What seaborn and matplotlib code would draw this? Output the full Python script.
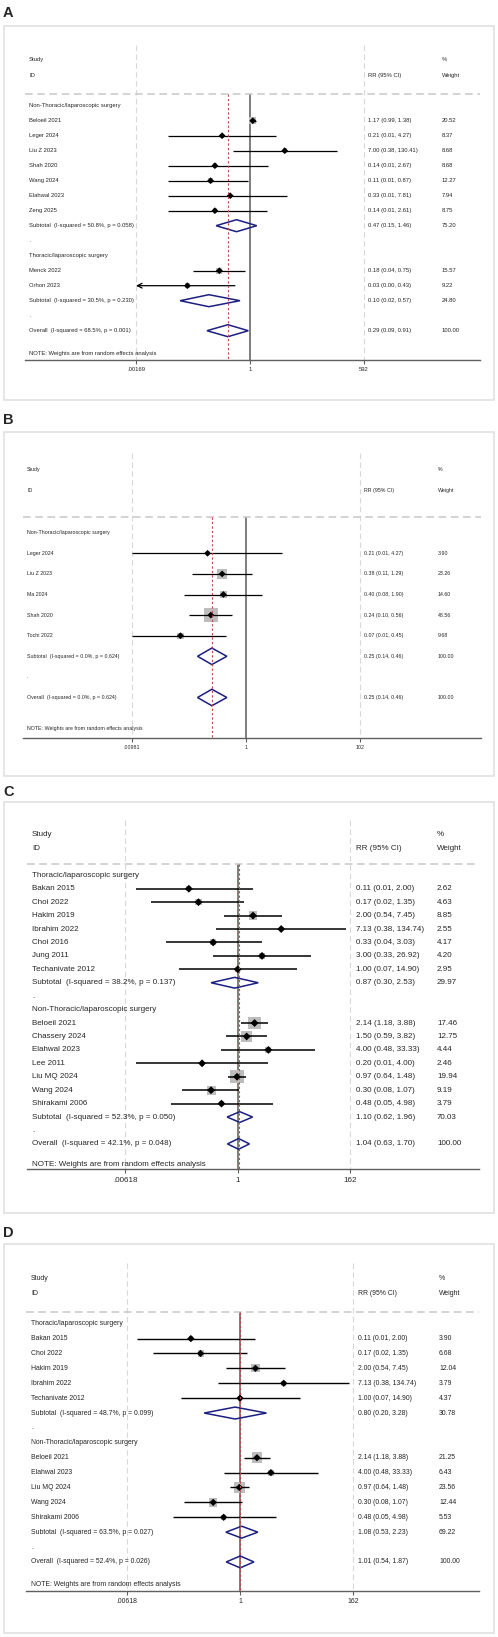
import numpy as np
import pandas as pd
import matplotlib.pyplot as plt
import seaborn as sns
from matplotlib.patches import Rectangle
from matplotlib.transforms import blended_transform_factory

# ---------------- DATA ---------------- #

# Panel A
a_groups = ["Non-Thoracic/laparoscopic surgery", "Thoracic/laparoscopic surgery"]
a_study = ["Beloeil 2021", "Leger 2024", "Liu Z 2023", "Shah 2020", "Wang 2024",
           "Elahwal 2023", "Zeng 2025", "Menck 2022", "Orhon 2023"]
a_grp = [0, 0, 0, 0, 0, 0, 0, 1, 1]
a_rr = [1.17, 0.21, 7.00, 0.14, 0.11, 0.33, 0.14, 0.18, 0.03]
a_lo = [0.99, 0.01, 0.38, 0.01, 0.01, 0.01, 0.01, 0.04, 0.00]
a_hi = [1.38, 4.27, 130.41, 2.67, 0.87, 7.81, 2.61, 0.75, 0.43]
a_w = [20.52, 8.37, 8.68, 8.68, 12.27, 7.94, 8.75, 15.57, 9.22]
a_sub_rr = [0.47, 0.10]
a_sub_lo = [0.15, 0.02]
a_sub_hi = [1.46, 0.57]
a_sub_w = [75.20, 24.80]
a_sub_i2 = ["50.8", "30.5"]
a_sub_p = ["0.058", "0.230"]
a_all = [0.29, 0.09, 0.91]
a_all_het = ["68.5", "0.001"]
a_ticks = [0.00169, 1, 592]
a_tick_labels = [".00169", "1", "592"]

# Panel B
b_groups = ["Non-Thoracic/laparoscopic surgery"]
b_study = ["Leger 2024", "Liu Z 2023", "Ma 2024", "Shah 2020", "Tochi 2022"]
b_grp = [0, 0, 0, 0, 0]
b_rr = [0.21, 0.38, 0.40, 0.24, 0.07]
b_lo = [0.01, 0.11, 0.08, 0.10, 0.01]
b_hi = [4.27, 1.29, 1.90, 0.56, 0.45]
b_w = [3.90, 23.26, 14.60, 48.56, 9.68]
b_sub_rr = [0.25]
b_sub_lo = [0.14]
b_sub_hi = [0.46]
b_sub_w = [100.00]
b_sub_i2 = ["0.0"]
b_sub_p = ["0.624"]
b_all = [0.25, 0.14, 0.46]
b_all_het = ["0.0", "0.624"]
b_ticks = [0.00981, 1, 102]
b_tick_labels = [".00981", "1", "102"]

# Panel C
c_groups = ["Thoracic/laparoscopic surgery", "Non-Thoracic/laparoscopic surgery"]
c_study = ["Bakan 2015", "Choi 2022", "Hakim 2019", "Ibrahim 2022", "Choi 2016",
           "Jung 2011", "Techanivate 2012",
           "Beloeil 2021", "Chassery 2024", "Elahwal 2023", "Lee 2011",
           "Liu MQ 2024", "Wang 2024", "Shirakami 2006"]
c_grp = [0, 0, 0, 0, 0, 0, 0, 1, 1, 1, 1, 1, 1, 1]
c_rr = [0.11, 0.17, 2.00, 7.13, 0.33, 3.00, 1.00, 2.14, 1.50, 4.00, 0.20, 0.97, 0.30, 0.48]
c_lo = [0.01, 0.02, 0.54, 0.38, 0.04, 0.33, 0.07, 1.18, 0.59, 0.48, 0.01, 0.64, 0.08, 0.05]
c_hi = [2.00, 1.35, 7.45, 134.74, 3.03, 26.92, 14.90, 3.88, 3.82, 33.33, 4.00, 1.48, 1.07, 4.98]
c_w = [2.62, 4.63, 8.85, 2.55, 4.17, 4.20, 2.95, 17.46, 12.75, 4.44, 2.46, 19.94, 9.19, 3.79]
c_sub_rr = [0.87, 1.10]
c_sub_lo = [0.30, 0.62]
c_sub_hi = [2.53, 1.96]
c_sub_w = [29.97, 70.03]
c_sub_i2 = ["38.2", "52.3"]
c_sub_p = ["0.137", "0.050"]
c_all = [1.04, 0.63, 1.70]
c_all_het = ["42.1", "0.048"]
c_ticks = [0.00618, 1, 162]
c_tick_labels = [".00618", "1", "162"]

# Panel D
d_groups = ["Thoracic/laparoscopic surgery", "Non-Thoracic/laparoscopic surgery"]
d_study = ["Bakan 2015", "Choi 2022", "Hakim 2019", "Ibrahim 2022", "Techanivate 2012",
           "Beloeil 2021", "Elahwal 2023", "Liu MQ 2024", "Wang 2024", "Shirakami 2006"]
d_grp = [0, 0, 0, 0, 0, 1, 1, 1, 1, 1]
d_rr = [0.11, 0.17, 2.00, 7.13, 1.00, 2.14, 4.00, 0.97, 0.30, 0.48]
d_lo = [0.01, 0.02, 0.54, 0.38, 0.07, 1.18, 0.48, 0.64, 0.08, 0.05]
d_hi = [2.00, 1.35, 7.45, 134.74, 14.90, 3.88, 33.33, 1.48, 1.07, 4.98]
d_w = [3.90, 6.68, 12.04, 3.79, 4.37, 21.25, 6.43, 23.56, 12.44, 5.53]
d_sub_rr = [0.80, 1.08]
d_sub_lo = [0.20, 0.53]
d_sub_hi = [3.28, 2.23]
d_sub_w = [30.78, 69.22]
d_sub_i2 = ["48.7", "63.5"]
d_sub_p = ["0.099", "0.027"]
d_all = [1.01, 0.54, 1.87]
d_all_het = ["52.4", "0.026"]
d_ticks = [0.00618, 1, 162]
d_tick_labels = [".00618", "1", "162"]

# ---------------- LAYOUT (pixels) ---------------- #
W, H = 498, 1637
layout = {
    "A": dict(frame=(26, 400), lab=17.3, ax=(25, 480, 45, 360), row0=105.7, sp=15.0,
              x1=250, xmax=364, cols=(29, 368, 442), fs=4.2, k=1.5, dot=12, lw=0.9, pad=1.9, hdr=-0.78),
    "B": dict(frame=(432, 776), lab=424, ax=(23, 481, 453, 738), row0=532.7, sp=20.6,
              x1=246, xmax=360, cols=(27, 364, 438), fs=3.8, k=2.0, dot=12, lw=0.9, pad=1.9, hdr=-0.76),
    "C": dict(frame=(802, 1213), lab=795.7, ax=(27, 479, 820, 1169), row0=875.3, sp=13.43,
              x1=237.7, xmax=350.3, cols=(32, 356, 437), fs=5.75, k=2.95, dot=16, lw=1.1, pad=3.1, hdr=-0.86),
    "D": dict(frame=(1244, 1633), lab=1237.3, ax=(26, 479, 1263, 1590.7), row0=1323.7, sp=14.89,
              x1=240, xmax=353.3, cols=(31, 358, 439), fs=4.95, k=2.35, dot=14, lw=1.0, pad=2.6, hdr=-0.81),
}

panels = {
    "A": (a_groups, a_study, a_grp, a_rr, a_lo, a_hi, a_w, a_sub_rr, a_sub_lo, a_sub_hi,
          a_sub_w, a_sub_i2, a_sub_p, a_all, a_all_het, a_ticks, a_tick_labels),
    "B": (b_groups, b_study, b_grp, b_rr, b_lo, b_hi, b_w, b_sub_rr, b_sub_lo, b_sub_hi,
          b_sub_w, b_sub_i2, b_sub_p, b_all, b_all_het, b_ticks, b_tick_labels),
    "C": (c_groups, c_study, c_grp, c_rr, c_lo, c_hi, c_w, c_sub_rr, c_sub_lo, c_sub_hi,
          c_sub_w, c_sub_i2, c_sub_p, c_all, c_all_het, c_ticks, c_tick_labels),
    "D": (d_groups, d_study, d_grp, d_rr, d_lo, d_hi, d_w, d_sub_rr, d_sub_lo, d_sub_hi,
          d_sub_w, d_sub_i2, d_sub_p, d_all, d_all_het, d_ticks, d_tick_labels),
}

NAVY = "#1a1f80"
RED = "#c04848"
BOX = "#bdbdbd"

sns.set_theme(style="white")
plt.rcParams["font.family"] = ["Liberation Sans", "DejaVu Sans"]

fig = plt.figure(figsize=(W / 100, H / 100), dpi=100)


def fx(x):
    return x / W


def fy(y):
    return 1 - y / H


def ci_text(r, l, h):
    return f"{r:.2f} ({l:.2f}, {h:.2f})"


for name, data in panels.items():
    (groups, study, grp, rr, lo, hi, w, s_rr, s_lo, s_hi, s_w, s_i2, s_p,
     all_, all_het, ticks, tick_labels) = data
    L = layout[name]

    # frame and panel letter
    ft, fb = L["frame"]
    fig.add_artist(Rectangle((fx(4), fy(fb)), fx(490), (fb - ft) / H, transform=fig.transFigure,
                             fill=False, edgecolor="#e0e0e0", lw=1.2))
    fig.text(fx(3), fy(L["lab"]), name, fontsize=10.5, fontweight="bold",
             family=["Liberation Sans", "DejaVu Sans"], va="baseline", ha="left")

    left, right, top, bottom = L["ax"]
    ax = fig.add_axes([fx(left), fy(bottom), (right - left) / W, (bottom - top) / H])
    scale = (L["xmax"] - L["x1"]) / np.log(ticks[-1])
    ax.set_xscale("log")
    ax.set_xlim(np.exp((left - L["x1"]) / scale), np.exp((right - L["x1"]) / scale))
    r_top = (top - L["row0"]) / L["sp"]
    r_bot = (bottom - L["row0"]) / L["sp"]
    ax.set_ylim(r_bot, r_top)
    ax.set_facecolor("none")
    for sp in ["top", "left", "right"]:
        ax.spines[sp].set_visible(False)
    ax.spines["bottom"].set_color("#606060")
    ax.spines["bottom"].set_linewidth(1.0)
    ax.set_yticks([])
    ax.set_xticks(ticks)
    ax.set_xticklabels(tick_labels)
    ax.minorticks_off()
    ax.tick_params(axis="x", length=2.9, width=0.8, color="#606060", pad=L["pad"],
                   labelsize=L["fs"], bottom=True)

    tr = blended_transform_factory(ax.transAxes, ax.transData)
    cx = [(c - left) / (right - left) for c in L["cols"]]
    fs = L["fs"]

    def put(col, row, s):
        ax.text(cx[col], row, s, transform=tr, fontsize=fs, va="center", ha="left")

    # headers
    put(0, -3.05, "Study")
    put(0, -2.03, "ID")
    put(1, -2.03, "RR (95% CI)")
    put(2, -3.05, "%")
    put(2, -2.03, "Weight")
    ax.axhline(L["hdr"], color="#c8c8c8", lw=1.1, dashes=(5, 3))

    # reference lines
    ax.vlines([ticks[0], ticks[-1]], r_top, r_bot, color="#d8d8d8", lw=0.8,
              linestyles=(0, (5, 3)), zorder=0)
    ax.vlines(1, L["hdr"], r_bot, color="#5a5a5a", lw=1.1, zorder=1)
    ax.vlines(all_[0], L["hdr"], r_bot, color=RED, lw=0.8, linestyles=(0, (2, 2)), zorder=5)

    # build rows
    rows = []
    row = 0
    sub_rows = []
    for g, gname in enumerate(groups):
        put(0, row, gname)
        row += 1
        for i in range(len(study)):
            if grp[i] == g:
                rows.append((i, row))
                row += 1
        sub_rows.append(row)
        row += 1
        put(0, row, ".")
        row += 1
    all_row = row

    idx = [i for i, _ in rows]
    ys = [r for _, r in rows]
    df = pd.DataFrame({
        "rr": [rr[i] for i in idx],
        "row": ys,
        "size": [(L["k"] * np.sqrt(w[i]) * 0.72) ** 2 for i in idx],
    })

    # weight boxes and point estimates
    sns.scatterplot(data=df, x="rr", y="row", s=df["size"], marker="s", color=BOX,
                    edgecolor="none", linewidth=0, ax=ax, legend=False, zorder=2)
    sns.scatterplot(data=df, x="rr", y="row", s=L["dot"], marker="D", color="black",
                    edgecolor="none", linewidth=0, ax=ax, legend=False, zorder=4)

    for i, r in rows:
        if lo[i] < ticks[0]:
            ax.annotate("", xy=(ticks[0], r), xytext=(hi[i], r),
                        arrowprops=dict(arrowstyle="->", lw=L["lw"], color="black",
                                        shrinkA=0, shrinkB=0, mutation_scale=fs * 2.0),
                        zorder=3)
        else:
            ax.hlines(r, lo[i], hi[i], color="black", lw=L["lw"], zorder=3)
        put(0, r, study[i])
        put(1, r, ci_text(rr[i], lo[i], hi[i]))
        put(2, r, f"{w[i]:.2f}")

    def diamond(r, m, l, h):
        ax.fill([l, m, h, m, l], [r, r - 0.4, r, r + 0.4, r], facecolor="none",
                edgecolor=NAVY, lw=1.1, zorder=4)

    for g, r in enumerate(sub_rows):
        diamond(r, s_rr[g], s_lo[g], s_hi[g])
        put(0, r, f"Subtotal  (I-squared = {s_i2[g]}%, p = {s_p[g]})")
        put(1, r, ci_text(s_rr[g], s_lo[g], s_hi[g]))
        put(2, r, f"{s_w[g]:.2f}")

    diamond(all_row, all_[0], all_[1], all_[2])
    put(0, all_row, f"Overall  (I-squared = {all_het[0]}%, p = {all_het[1]})")
    put(1, all_row, ci_text(all_[0], all_[1], all_[2]))
    put(2, all_row, "100.00")
    put(0, all_row + 1.5, "NOTE: Weights are from random effects analysis")
    ax.set_xlabel("")
    ax.set_ylabel("")

fig.savefig("out.png", dpi=100)
